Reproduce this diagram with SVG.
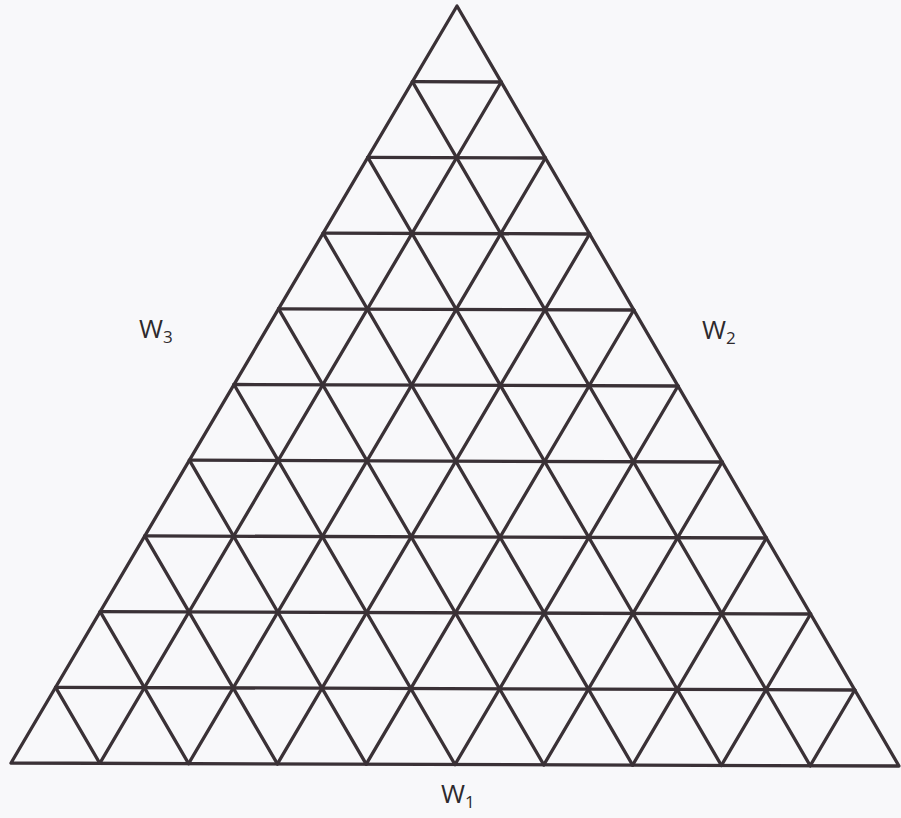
<svg xmlns="http://www.w3.org/2000/svg" width="901" height="818" viewBox="0 0 901 818">
<style>
.g line, .g polygon { stroke: #3a3136; stroke-width: 3.3; fill: none; stroke-linecap: round; stroke-linejoin: round; }
.lbl { font-family: "Open Sans", "Noto Sans", "Liberation Sans", sans-serif; font-size: 26px; fill: #2e2a2d; }
.sub { font-size: 17px; }
</style>
<rect width="901" height="818" fill="#f8f8fa"/>
<g id="connectors" class="g">
<polygon points="457,6 11,763 899,766"/>
<line x1="412.4" y1="81.7" x2="501.2" y2="82"/>
<line x1="367.8" y1="157.4" x2="545.4" y2="158"/>
<line x1="323.2" y1="233.1" x2="589.6" y2="234"/>
<line x1="278.6" y1="308.8" x2="633.8" y2="310"/>
<line x1="234" y1="384.5" x2="678" y2="386"/>
<line x1="189.4" y1="460.2" x2="722.2" y2="462"/>
<line x1="144.8" y1="535.9" x2="766.4" y2="538"/>
<line x1="100.2" y1="611.6" x2="810.6" y2="614"/>
<line x1="55.6" y1="687.3" x2="854.8" y2="690"/>
<line x1="501.2" y1="82" x2="99.8" y2="763.3"/>
<line x1="545.4" y1="158" x2="188.6" y2="763.6"/>
<line x1="589.6" y1="234" x2="277.4" y2="763.9"/>
<line x1="633.8" y1="310" x2="366.2" y2="764.2"/>
<line x1="678" y1="386" x2="455" y2="764.5"/>
<line x1="722.2" y1="462" x2="543.8" y2="764.8"/>
<line x1="766.4" y1="538" x2="632.6" y2="765.1"/>
<line x1="810.6" y1="614" x2="721.4" y2="765.4"/>
<line x1="854.8" y1="690" x2="810.2" y2="765.7"/>
<line x1="412.4" y1="81.7" x2="810.2" y2="765.7"/>
<line x1="367.8" y1="157.4" x2="721.4" y2="765.4"/>
<line x1="323.2" y1="233.1" x2="632.6" y2="765.1"/>
<line x1="278.6" y1="308.8" x2="543.8" y2="764.8"/>
<line x1="234" y1="384.5" x2="455" y2="764.5"/>
<line x1="189.4" y1="460.2" x2="366.2" y2="764.2"/>
<line x1="144.8" y1="535.9" x2="277.4" y2="763.9"/>
<line x1="100.2" y1="611.6" x2="188.6" y2="763.6"/>
<line x1="55.6" y1="687.3" x2="99.8" y2="763.3"/>
</g>
<g id="label-w3"><text class="lbl" x="139" y="338">W<tspan class="sub" dy="5">3</tspan></text></g>
<g id="label-w2"><text class="lbl" x="702" y="339">W<tspan class="sub" dy="5">2</tspan></text></g>
<g id="label-w1"><text class="lbl" x="441" y="803">W<tspan class="sub" dy="5">1</tspan></text></g>
</svg>
